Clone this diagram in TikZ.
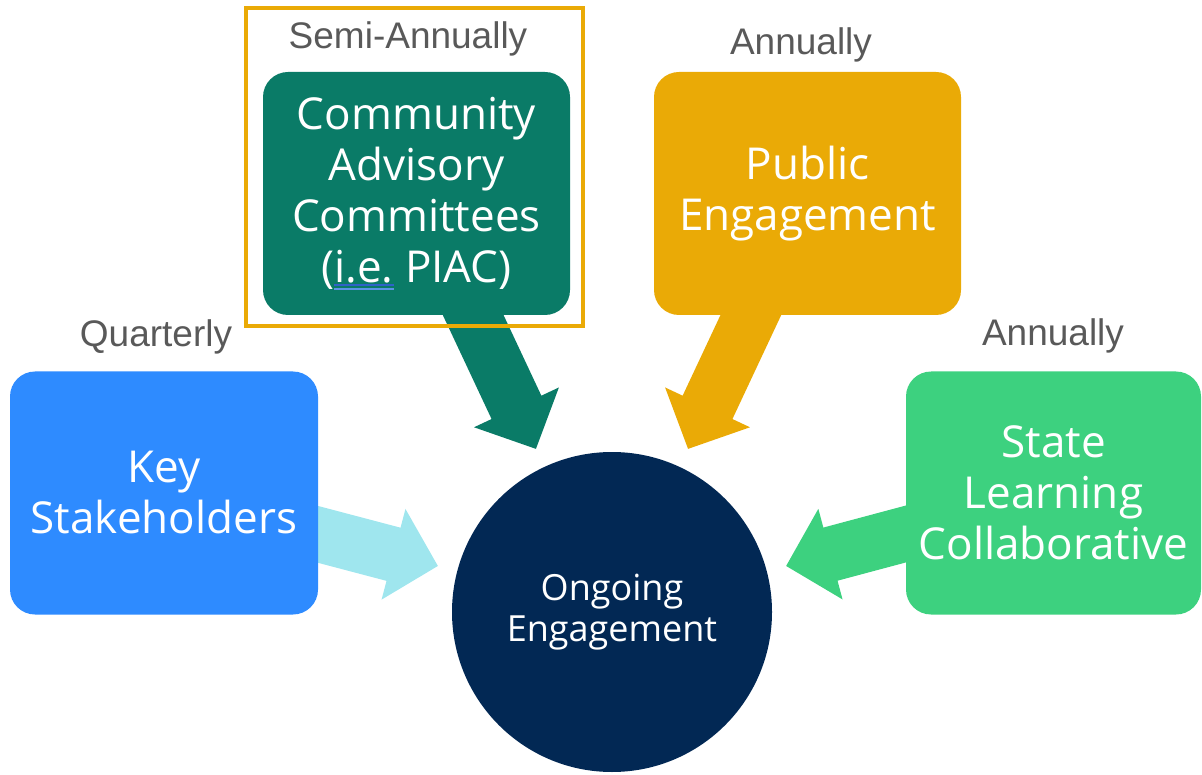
\documentclass[tikz,border=0pt]{standalone}
\usepackage{fontspec}
\usetikzlibrary{arrows.meta}
\newfontfamily\boxfont{Open Sans}
\newfontfamily\labfont{Liberation Sans}
\definecolor{teal1}{HTML}{0A7B67}
\definecolor{gold1}{HTML}{EAAA06}
\definecolor{blue1}{HTML}{2E8BFF}
\definecolor{green1}{HTML}{3DD17F}
\definecolor{cyan1}{HTML}{9FE6EE}
\definecolor{navy1}{HTML}{022854}
\definecolor{gray1}{HTML}{595959}
\definecolor{ulblueA}{HTML}{2F62C8}
\definecolor{ulblueB}{HTML}{5B93E6}
\newcommand\ieul[1]{\setbox0\hbox{#1}\rlap{\color{ulblueA}\rule[-3.5pt]{\wd0}{1.6pt}}\rlap{\color{ulblueB}\rule[-7.5pt]{\wd0}{1.6pt}}\box0\relax}
\tikzset{
  topic/.style={rectangle, rounded corners=25pt, minimum height=243pt, inner sep=0pt,
    text=white, align=center, font=\boxfont\fontsize{44}{51}\selectfont},
  freq/.style={text=gray1, inner sep=0pt, font=\labfont\fontsize{37}{42}\selectfont},
  blockarrow/.style={line width=55pt, -{Triangle[width=91pt,length=46pt]}},
}
\begin{document}
\begin{tikzpicture}[x=1pt,y=-1pt]
\useasboundingbox (0,0) rectangle (1202,775);
% arrow coordinates
\coordinate (s1) at (460,287); \coordinate (t1) at (536,449);
\coordinate (s2) at (764,287); \coordinate (t2) at (688,449);
\coordinate (s3) at (290,527); \coordinate (t3) at (438,566);
\coordinate (s4) at (932,527); \coordinate (t4) at (786,566);
\draw[blockarrow, teal1] (s1) -- (t1);
\draw[blockarrow, gold1] (s2) -- (t2);
\draw[blockarrow, cyan1] (s3) -- (t3);
\draw[blockarrow, green1] (s4) -- (t4);
% boxes
\node[topic, fill=teal1, minimum width=307pt] (cac) at (416.5,193.5)
  {Community\\Advisory\\Committees\\(\ieul{i.e.} PIAC)};
\node[topic, fill=gold1, minimum width=307pt] (pub) at (807.5,193.5)
  {Public\\Engagement};
\node[topic, fill=blue1, minimum width=308pt] (key) at (164,493)
  {Key\\Stakeholders};
\node[topic, fill=green1, minimum width=295pt] (slc) at (1053.5,493)
  {State\\Learning\\Collaborative};
\node[circle, fill=navy1, minimum size=320pt, inner sep=0pt, text=white, align=center,
  font=\boxfont\fontsize{36}{41}\selectfont] (ong) at (612,612) {Ongoing\\Engagement};
% frequency labels
\node[freq] (f1) at (408,39) {Semi-Annually};
\node[freq] (f2) at (801,45) {Annually};
\node[freq] (f3) at (156,337) {Quarterly};
\node[freq] (f4) at (1053,336) {Annually};
% highlight frame
\node[draw=gold1, line width=3.5pt, minimum width=337pt, minimum height=318pt, inner sep=0pt] (frame) at (414.5,167) {};
\end{tikzpicture}
\end{document}
